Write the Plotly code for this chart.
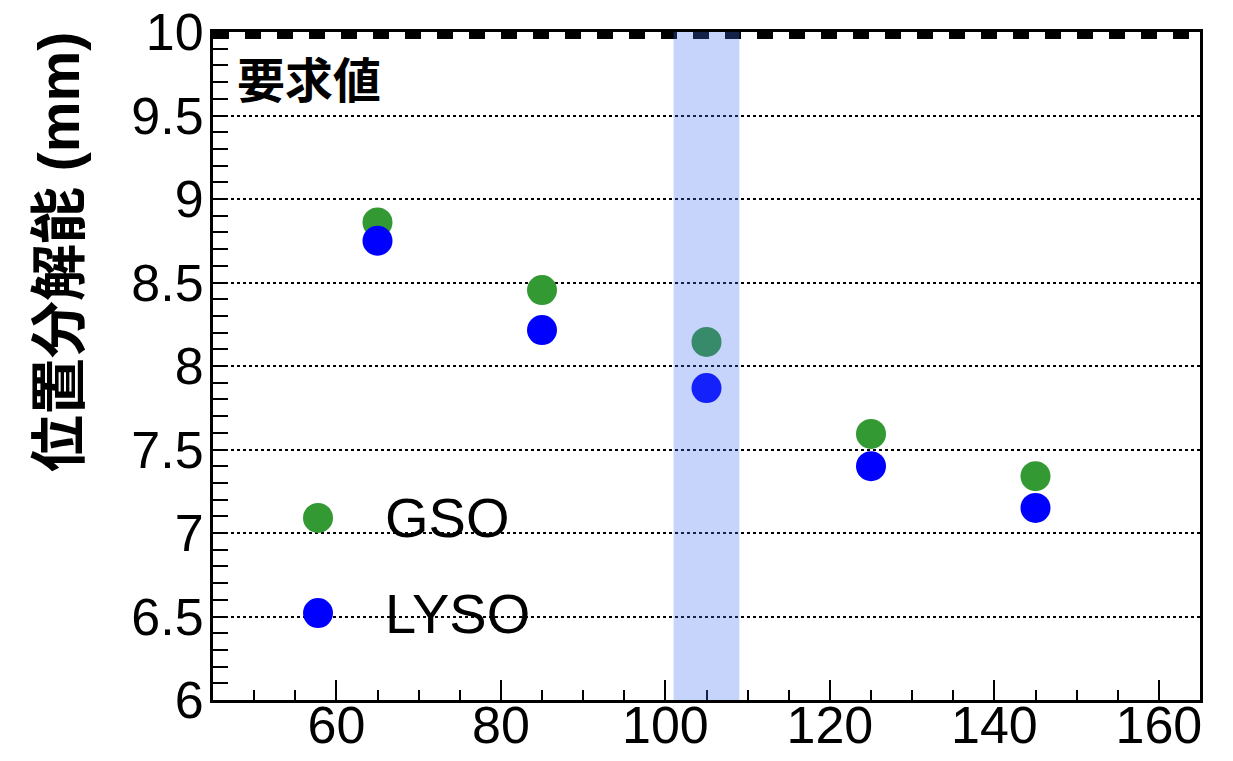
import plotly.graph_objects as go

# ---- data ----
thickness = [65, 85, 105, 125, 145]
gso = [8.86, 8.455, 8.144, 7.593, 7.34]
lyso = [8.75, 8.215, 7.868, 7.40, 7.15]
requirement = 10.0
band = [101, 109]
x_ticks = [60, 80, 100, 120, 140, 160]
y_ticks = [6, 6.5, 7, 7.5, 8, 8.5, 9, 9.5, 10]
y_tick_text = ["6", "6.5", "7", "7.5", "8", "8.5", "9", "9.5", "10"]

GREEN = "rgb(51,153,51)"
BLUE = "rgb(0,0,255)"
FONT = "Liberation Sans, Arial, Noto Sans CJK JP"

fig = go.Figure()

# requirement line (dashed, thick)
fig.add_trace(go.Scatter(
    x=[45, 165], y=[requirement, requirement], mode="lines",
    line=dict(color="black", width=14, dash="16px,16px"),
    showlegend=False, hoverinfo="skip"))

fig.add_trace(go.Scatter(
    x=thickness, y=gso, mode="markers", name="GSO",
    marker=dict(color=GREEN, size=30), showlegend=False))
fig.add_trace(go.Scatter(
    x=thickness, y=lyso, mode="markers", name="LYSO",
    marker=dict(color=BLUE, size=30), showlegend=False))

# highlight band (drawn over the markers, translucent)
fig.add_shape(type="rect", xref="x", yref="y", x0=band[0], x1=band[1],
              y0=6, y1=10, fillcolor="rgba(65,110,240,0.3)",
              line=dict(width=0), layer="above")

# manual legend
for yc, col, name in [(0.2725, GREEN, "GSO"), (0.1302, BLUE, "LYSO")]:
    fig.add_shape(type="circle", xref="paper", yref="paper",
                  xsizemode="pixel", ysizemode="pixel",
                  xanchor=0.1064, yanchor=yc, x0=-15, x1=15, y0=-15, y1=15,
                  fillcolor=col, line=dict(width=0))
    fig.add_annotation(xref="paper", yref="paper", x=0.1722, y=yc,
                       text=name, showarrow=False, xanchor="left", yanchor="middle",
                       font=dict(family=FONT, size=56, color="black"))

# requirement label
fig.add_annotation(xref="paper", yref="paper", x=0.022, y=0.9326,
                   text="<b>要求値</b>", showarrow=False, xanchor="left", yanchor="middle",
                   font=dict(family="Noto Sans CJK JP", size=48, color="black"))

# y axis title
fig.add_annotation(xref="paper", yref="paper", x=-0.156, y=0.6707,
                   text="<b>位置分解能 (mm)</b>", showarrow=False, textangle=-90,
                   xanchor="center", yanchor="middle",
                   font=dict(family="Liberation Sans, Noto Sans CJK JP", size=57, color="black"))

fig.update_layout(
    width=1225, height=753,
    margin=dict(l=205, r=33, t=24, b=61),
    paper_bgcolor="white", plot_bgcolor="white",
    font=dict(family=FONT, size=50, color="black"),
    xaxis=dict(range=[45, 165], tickvals=x_ticks, ticks="inside", ticklen=20,
               tickwidth=2, tickcolor="black", showline=True, linecolor="black",
               linewidth=3, mirror=True, showgrid=False, zeroline=False,
               automargin=False, tickfont=dict(size=52),
               ticklabeloverflow="allow", ticklabelstandoff=-22,
               minor=dict(dtick=5, tick0=0, ticks="inside", ticklen=10,
                          tickwidth=2, tickcolor="black", showgrid=False)),
    yaxis=dict(range=[6, 10], tickvals=y_ticks, ticktext=y_tick_text, ticks="inside",
               ticklen=15, tickwidth=2, tickcolor="black", showline=True,
               linecolor="black", linewidth=3, mirror=True, showgrid=True,
               gridcolor="black", gridwidth=1.5, griddash="dot", zeroline=False,
               automargin=False, tickfont=dict(size=52),
               ticklabeloverflow="allow", ticklabelstandoff=-4,
               minor=dict(dtick=0.1, tick0=0, ticks="inside", ticklen=15,
                          tickwidth=2, tickcolor="black", showgrid=False)),
)

fig.write_html("out.html")
